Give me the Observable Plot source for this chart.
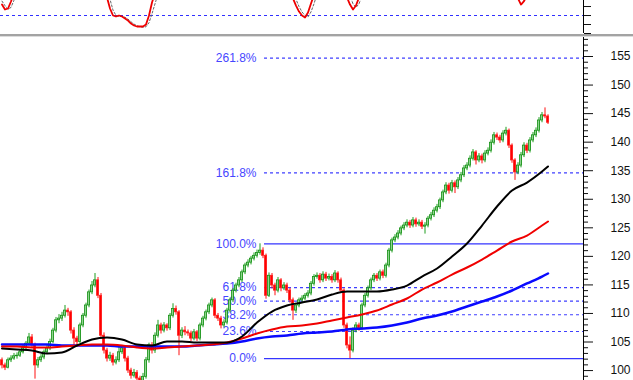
<!DOCTYPE html>
<html><head><meta charset="utf-8">
<script src="https://cdn.jsdelivr.net/npm/d3@7"></script>
<script src="https://cdn.jsdelivr.net/npm/@observablehq/plot@0.6"></script>
<style>
html,body{margin:0;padding:0;background:#fff;}
#chart{position:relative;width:633px;height:380px;overflow:hidden;background:#fff;font-family:"Liberation Sans",Arial,sans-serif;}
#osc{position:absolute;left:0;top:0;width:633px;height:34px;overflow:hidden;}
#sep{position:absolute;left:0;top:34px;width:633px;height:2px;background:#a3a3a3;}
#sep2{position:absolute;left:0;top:36px;width:633px;height:1px;background:#dcdcdc;}
#main{position:absolute;left:0;top:37px;width:633px;height:343px;overflow:hidden;}
svg{display:block}
</style></head><body>
<div id="chart"><div id="osc"></div><div id="sep"></div><div id="sep2"></div><div id="main"></div></div>
<script>
// ---- price data (daily candles) ----
const firstOpen = 101.8;
const closes = [100.9,100.5,101.8,102.1,102.5,102.6,103.2,103.9,104.7,105.8,
104.4,100.9,101.8,102.3,103.2,103.9,105.0,107.0,108.8,109.1,
109.6,110.5,110.2,107.0,105.6,105.0,107.9,109.6,111.4,113.7,
114.9,115.8,113.1,106.1,103.5,102.1,102.6,101.4,101.8,103.2,
103.9,102.1,100.0,99.1,99.6,98.6,98.2,98.9,101.8,104.4,
103.5,106.1,107.9,107.0,107.9,107.4,109.6,110.8,110.2,106.1,
107.0,106.7,106.5,105.6,106.7,105.6,107.9,109.1,110.2,111.4,
112.3,109.6,109.1,107.9,108.4,110.5,112.3,114.0,114.9,115.8,
117.2,118.4,118.9,119.6,120.1,120.6,121.0,120.1,113.1,116.6,
114.9,114.0,115.8,114.4,114.9,114.0,112.3,110.5,111.4,112.3,
112.6,113.1,113.5,115.2,116.4,116.6,115.8,116.8,116.1,116.4,
115.8,117.0,115.8,114.0,107.9,104.4,103.5,107.0,107.9,107.4,
111.4,113.1,114.4,115.8,116.6,116.1,117.2,116.6,118.4,121.0,
122.8,123.3,124.0,124.9,125.4,125.9,125.4,126.3,125.6,125.9,
125.2,125.4,126.6,127.2,128.0,128.6,129.8,131.2,132.4,131.5,
132.8,132.1,133.3,134.2,135.4,135.9,137.1,138.2,136.8,137.5,
136.8,138.0,138.5,139.9,141.2,140.8,140.3,141.5,142.0,139.4,
136.8,134.7,135.9,137.7,139.4,138.5,140.3,141.2,142.0,143.8,
144.7,144.5,143.4];
const highs = [102.2,101.3,102.2,102.6,103.0,103.1,103.6,104.4,105.1,106.5,
106.3,104.8,102.3,102.8,103.6,104.4,105.5,107.4,109.3,109.8,
110.2,111.4,110.9,110.5,107.5,106.0,108.3,110.0,111.8,114.1,
115.6,117.0,116.3,113.5,106.6,103.9,103.2,103.0,102.4,104.4,
104.4,104.3,102.5,100.4,100.2,100.0,99.0,99.5,102.3,104.8,
104.9,106.6,108.8,108.3,108.4,108.2,110.0,111.7,111.3,110.5,
107.5,107.7,107.1,106.9,107.2,107.0,108.3,109.5,110.6,111.8,
112.7,112.6,110.0,109.5,108.9,110.9,112.7,114.4,115.3,116.3,
117.6,118.8,119.4,120.0,120.6,121.1,122.2,121.5,120.4,117.1,
117.0,115.3,116.3,116.1,115.4,115.3,114.4,112.7,111.8,112.7,
113.1,113.5,114.0,115.6,116.8,117.1,117.0,117.3,117.2,116.9,
116.8,117.5,117.3,116.2,114.3,108.3,105.9,107.5,108.4,108.3,
111.8,113.5,114.8,116.2,117.0,117.0,117.6,117.6,118.8,121.4,
123.2,123.8,124.5,125.3,125.9,126.4,126.3,126.8,126.7,126.4,
126.3,125.9,127.0,127.7,128.5,129.1,130.2,131.6,132.9,132.8,
133.3,133.2,133.8,134.7,135.9,136.4,137.6,138.7,138.5,138.0,
137.9,138.5,139.0,140.4,141.7,141.6,141.2,142.0,142.6,142.3,
139.7,137.1,136.4,138.2,139.9,139.8,140.8,141.7,142.5,144.3,
145.2,146.0,144.8];
const lows = [100.3,100.0,100.3,101.4,101.8,102.0,102.3,102.9,103.5,104.4,
104.0,98.5,100.4,101.4,101.9,102.8,103.5,104.7,106.6,108.2,
108.6,109.2,109.5,106.4,104.4,104.4,104.7,107.5,109.2,111.0,
113.3,114.5,112.6,105.5,102.9,101.5,101.6,100.8,101.0,101.4,
102.8,101.5,99.5,98.5,98.7,98.0,97.6,97.8,98.5,101.3,
102.9,103.0,105.7,106.4,106.6,106.9,107.0,109.2,109.7,102.6,
105.6,106.1,106.0,105.1,105.2,105.1,105.2,107.5,108.7,109.8,
111.0,109.1,108.6,107.3,107.5,108.0,110.1,111.9,113.6,114.5,
115.4,116.8,118.0,118.5,119.2,119.7,120.2,119.6,112.5,112.8,
114.3,113.1,113.6,113.8,114.0,113.5,111.8,108.8,110.0,111.0,
111.9,112.2,112.7,113.1,114.8,116.0,115.3,115.4,115.6,115.7,
115.3,115.4,115.3,113.5,107.4,103.8,102.1,103.1,106.6,106.9,
107.0,111.0,112.7,114.0,115.4,115.6,115.7,116.1,116.2,118.0,
120.6,122.4,122.9,123.6,124.5,125.0,124.9,125.0,125.1,125.2,
124.7,123.9,125.0,126.2,126.8,127.6,128.2,129.4,130.8,130.9,
131.1,131.0,131.7,132.9,133.8,135.0,135.5,136.7,136.0,136.4,
136.2,136.4,137.6,138.1,139.5,140.3,139.8,139.9,141.1,138.9,
136.3,133.3,134.3,135.5,137.3,138.0,138.1,139.9,140.8,141.6,
143.4,144.1,143.1];

// ---- moving averages (sampled days) ----
const maDays = [0,5,10,15,20,25,30,35,40,45,50,55,60,65,70,75,80,85,90,95,100,105,110,115,120,125,130,135,140,145,150,155,160,165,170,175,180,182];
const maBlack = [103.86,103.69,103.51,102.99,103.16,104.39,105.44,105.79,105.44,104.56,104.39,105.09,105.09,104.91,104.91,104.91,105.96,108.41,110.34,111.39,111.92,112.44,113.32,113.84,113.84,113.84,114.19,114.89,116.47,117.87,119.97,122.25,125.40,128.73,131.53,132.93,134.86,135.74];
const maRed = [104.21,104.21,104.04,104.04,104.21,104.39,104.56,104.56,104.39,104.04,103.86,104.04,104.21,104.39,104.56,104.91,105.61,106.49,107.19,107.71,107.89,108.24,108.77,109.29,109.82,110.52,111.57,112.62,114.19,115.42,116.82,118.05,119.45,121.02,122.60,123.65,125.40,126.10];
const maBlue = [104.56,104.56,104.56,104.56,104.39,104.39,104.39,104.39,104.21,104.21,104.21,104.21,104.21,104.39,104.56,104.74,105.09,105.61,105.96,106.14,106.49,106.66,106.84,107.19,107.36,107.54,107.89,108.41,109.12,109.64,110.34,111.22,112.09,112.97,114.02,115.25,116.47,117.00];

// ---- Fibonacci ----
const fibPct = [0, 23.6, 38.2, 50, 61.8, 100, 161.8, 261.8];
const fibLow = 102.1, fibHigh = 122.2, fibStartDay = 87.5;

// ---- price axis ticks ----
const yTicks = [100,105,110,115,120,125,130,135,140,145,150,155];
const yMinor = [99,101,102,103,104,106,107,108,109,111,112,113,114,116,117,118,119,121,122,123,124,126,127,128,129,131,132,133,134,136,137,138,139,141,142,143,144,146,147,148,149,151,152,153,154,156,157,158];

// ---- oscillator (only the part inside the panel is visible) ----
const oscDays = [0,1,2,3,4,35,36,37,38,39,40,41,42,43,44,45,46,47,48,49,50,51,97,98,99,100,101,102,103,104,115,116,117,118,119,172,173,174,175,182];
const oscVals = [32.2,26.7,27.8,35.6,45,40,27.8,20,18.9,20,18.9,16.7,14.4,11.1,8.9,7.8,7.8,7.8,10,20,34.4,45,38.9,31.1,24.4,20,17.8,23.3,33.3,43,40,32.2,26.7,31.1,40,38.9,32.2,36.0,42,50];
const sigDays = [0,1,2,3,4,5,35,36,37,38,39,40,41,42,43,44,45,46,47,48,49,50,51,52,97,98,99,100,101,102,103,104,105,116,117,118,119,120,173,174,175,182];
const sigVals = [36,31,27,29,37,45,45,38,26,20,19,19,18,16,13,10.5,8.5,7.5,7,7.5,12,22,33,44,45,38,30,24,20,18.5,24,33,44,42,33,29,33,42,40,36,44,50];
const oscLevel = 20;
const oscTicks = [0,10,20,30];

// ---- build tables ----
const candles = closes.map((c, i) => {
  const open = i ? closes[i-1] : firstOpen;
  return {i, open, close: c, high: highs[i], low: lows[i], up: c >= open};
});
const mk = arr => arr.map((v, k) => ({i: maDays[k], v}));
const fibs = fibPct.map(p => ({p, price: fibLow + p / 100 * (fibHigh - fibLow), solid: p === 0 || p === 100, label: p.toFixed(1) + "%"}));
const oscData = oscDays.map((d, k) => ({i: d, v: oscVals[k]}));
const sigData = sigDays.map((d, k) => ({i: d, v: sigVals[k]}));

const X_END = 193.83;
const font = "Liberation Sans, Arial, sans-serif";

const main = Plot.plot({
  width: 633, height: 343,
  marginLeft: 0, marginRight: 50, marginTop: 0, marginBottom: 0,
  style: {fontFamily: font, fontSize: "12px", color: "#111", background: "white"},
  x: {domain: [-0.5, X_END], axis: null},
  y: {domain: [98.26, 158.33], axis: null, label: null},
  marks: [
    Plot.ruleY(fibs.filter(d => d.solid), {y: "price", x1: fibStartDay, x2: X_END, stroke: "#3535ff", strokeWidth: 1.2}),
    Plot.ruleY(fibs.filter(d => !d.solid), {y: "price", x1: fibStartDay, x2: X_END, stroke: "#3f3fff", strokeWidth: 1.2, strokeDasharray: "3,3"}),
    Plot.text(fibs, {x: fibStartDay, y: "price", text: "label", textAnchor: "end", dx: -8, fill: "#4646ff", fontSize: 12}),
    Plot.ruleX(candles, {x: "i", y1: "low", y2: "high", stroke: d => d.up ? "#1e9e1e" : "#ff1010", strokeWidth: 1, clip: true}),
    Plot.rect(candles, {x1: d => d.i - 0.33, x2: d => d.i + 0.33, y1: "open", y2: "close",
      fill: d => d.up ? "#8fd48f" : "#ff0000", stroke: d => d.up ? "#129012" : "#ff2020", strokeWidth: 0.8, clip: true}),
    Plot.line(mk(maBlue), {x: "i", y: "v", stroke: "#0a0aff", strokeWidth: 2.5, curve: "monotone-x"}),
    Plot.line(mk(maRed), {x: "i", y: "v", stroke: "#f00000", strokeWidth: 2, curve: "monotone-x"}),
    Plot.line(mk(maBlack), {x: "i", y: "v", stroke: "#000000", strokeWidth: 2, curve: "monotone-x"}),
    Plot.ruleX([X_END], {stroke: "#000"}),
    Plot.axisY({ticks: yMinor, anchor: "right", tickSize: 4, tickFormat: () => "", label: null}),
    Plot.axisY({ticks: yTicks, anchor: "right", tickSize: 9, tickPadding: 18, fontSize: 12, label: null})
  ]
});
document.getElementById("main").appendChild(main);

const osc = Plot.plot({
  width: 633, height: 34,
  marginLeft: 0, marginRight: 50, marginTop: 0, marginBottom: 1,
  style: {fontFamily: font, fontSize: "12px", color: "#111", background: "white"},
  x: {domain: [-0.5, X_END], axis: null},
  y: {domain: [0, 36.7], axis: null, label: null},
  marks: [
    Plot.ruleY([oscLevel], {x1: -0.5, x2: X_END, stroke: "#3030ff", strokeWidth: 1.2, strokeDasharray: "3,3"}),
    Plot.line(sigData, {x: "i", y: "v", stroke: "#666", strokeWidth: 1, strokeDasharray: "2,2", clip: true}),
    Plot.line(oscData, {x: "i", y: "v", stroke: "#ee0000", strokeWidth: 1.8, clip: true}),
    Plot.ruleX([X_END], {stroke: "#000"}),
    Plot.axisY({ticks: oscTicks, anchor: "right", tickSize: 7, tickFormat: () => "", label: null})
  ]
});
document.getElementById("osc").appendChild(osc);
</script>
</body></html>
